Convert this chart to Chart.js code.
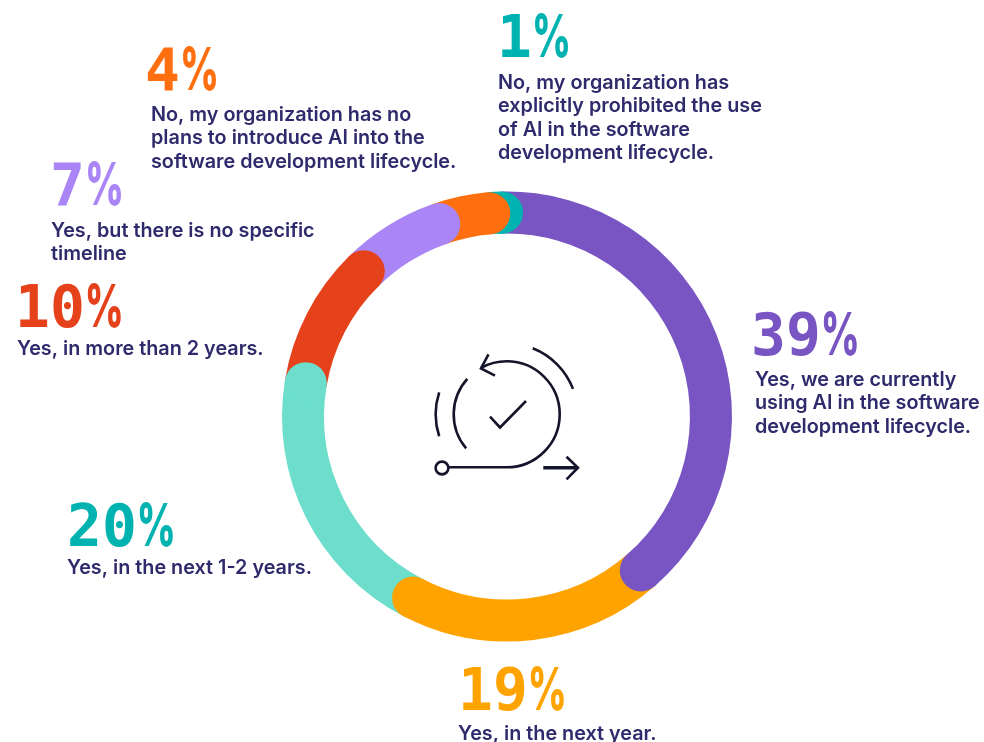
<!DOCTYPE html>
<html>
<head>
<meta charset="utf-8">
<script src="https://cdn.jsdelivr.net/npm/chart.js@4"></script>
<style>
  html, body { margin: 0; padding: 0; background: #fff; overflow: hidden; }
  #wrap { position: relative; width: 984px; height: 742px; }
</style>
</head>
<body>
<div id="wrap"><canvas id="ring" width="984" height="742"></canvas></div>
<script>
// Survey answers, clockwise from the top of the ring
const categories = [
  ["Yes, we are currently", "using AI in the software", "development lifecycle."],
  ["Yes, in the next year."],
  ["Yes, in the next 1-2 years."],
  ["Yes, in more than 2 years."],
  ["Yes, but there is no specific", "timeline"],
  ["No, my organization has no", "plans to introduce AI into the", "software development lifecycle."],
  ["No, my organization has", "explicitly prohibited the use", "of AI in the software", "development lifecycle."]
];
const shares = [39, 19, 20, 10, 7, 4, 1];
const colors = ["#7855C3", "#FFA300", "#6CDECB", "#E5421C", "#A985F5", "#FF6F0F", "#00B2B0"];
const percentColors = ["#7855C3", "#FFA300", "#00B2B0", "#E5421C", "#A985F5", "#FF6F0F", "#00B2B0"];

// Callout anchors: x, percent baseline, first text baseline
const calloutX = [751, 458, 67, 15, 50, 145, 497];
const calloutBodyX = [755, 458, 67, 17, 51, 151, 498];
const percentBaseline = [355, 710, 546, 327, 205, 90, 57];
const bodyBaseline = [386, 740, 574, 355, 237, 121, 89];

const lineGap = 23.4;
const digitFont = "bold 58px 'DejaVu Sans Mono'";
const signFont = "800 59px Inter";
const signWidth = 39;
const bodyFont = "600 19.8px Inter";
const bodyColor = "#2F2A6B";
const iconColor = "#14142B";

// Rounded leading end of each arc, laid over the following slice
const roundCaps = {
  id: "roundCaps",
  afterDatasetsDraw(chart) {
    const { ctx } = chart;
    const arcs = chart.getDatasetMeta(0).data;
    for (let i = arcs.length - 1; i >= 0; i--) {
      const a = arcs[i];
      const mid = (a.outerRadius + a.innerRadius) / 2;
      const r = (a.outerRadius - a.innerRadius) / 2;
      ctx.save();
      ctx.fillStyle = colors[i];
      ctx.beginPath();
      ctx.arc(a.x + mid * Math.cos(a.endAngle), a.y + mid * Math.sin(a.endAngle), r, 0, Math.PI * 2);
      ctx.fill();
      ctx.restore();
    }
  }
};

// Percent figures and wrapped answers around the ring
const callouts = {
  id: "callouts",
  afterDraw(chart) {
    const { ctx } = chart;
    ctx.save();
    ctx.textBaseline = "alphabetic";
    ctx.textAlign = "left";
    shares.forEach((v, i) => {
      const digits = String(v);
      ctx.font = digitFont;
      ctx.fillStyle = percentColors[i];
      ctx.fillText(digits, calloutX[i], percentBaseline[i]);
      const signX = calloutX[i] + ctx.measureText(digits).width;
      // the percent sign is condensed to sit in one digit cell
      ctx.font = signFont;
      const natural = ctx.measureText("%").width;
      ctx.save();
      ctx.translate(signX, percentBaseline[i]);
      ctx.scale(signWidth / natural, 1);
      ctx.fillText("%", 0, 0);
      ctx.restore();
      ctx.font = bodyFont;
      ctx.fillStyle = bodyColor;
      categories[i].forEach((line, k) => {
        ctx.fillText(line, calloutBodyX[i], bodyBaseline[i] + k * lineGap);
      });
    });
    ctx.restore();
  }
};

// Line icon in the hole: looping arrow, tick and motion arcs
const centerIcon = {
  id: "centerIcon",
  afterDraw(chart) {
    const { ctx } = chart;
    const arc = chart.getDatasetMeta(0).data[0];
    const cx = arc.x - 0.3, cy = arc.y - 2.2;
    const deg = d => d * Math.PI / 180;
    const stroke = (w, draw) => {
      ctx.lineWidth = w;
      ctx.beginPath();
      draw();
      ctx.stroke();
    };
    ctx.save();
    ctx.strokeStyle = iconColor;
    ctx.lineCap = "butt";
    ctx.lineJoin = "miter";
    // motion arcs
    stroke(2.6, () => ctx.arc(cx, cy, 71, deg(-68.5), deg(-21)));
    stroke(2.6, () => ctx.arc(cx, cy, 71, deg(162), deg(198)));
    stroke(2.6, () => ctx.arc(cx, cy, 53, deg(140), deg(222)));
    // main loop from the dot round to the arrow head
    stroke(2.6, () => {
      ctx.moveTo(448.5, cy + 53);
      ctx.lineTo(cx, cy + 53);
      ctx.arc(cx, cy, 53, deg(90), deg(241), true);
    });
    stroke(2.6, () => {
      ctx.moveTo(488.5, 354.3);
      ctx.lineTo(481, 368.5);
      ctx.lineTo(495, 375.7);
    });
    // tick
    stroke(2.6, () => {
      ctx.moveTo(490, 416.7);
      ctx.lineTo(500, 427.5);
      ctx.lineTo(526, 401);
    });
    // start dot
    stroke(2.6, () => ctx.arc(442, 468, 6.4, 0, Math.PI * 2));
    // outgoing arrow
    stroke(3.6, () => {
      ctx.moveTo(543.3, 467.7);
      ctx.lineTo(577, 467.7);
    });
    stroke(2.6, () => {
      ctx.moveTo(566.5, 456.7);
      ctx.lineTo(578, 467.7);
      ctx.lineTo(566.5, 479.3);
    });
    ctx.restore();
  }
};

new Chart(document.getElementById("ring"), {
  type: "doughnut",
  data: {
    labels: categories.map(c => c.join(" ")),
    datasets: [{
      data: shares,
      backgroundColor: colors,
      borderWidth: 0,
      hoverOffset: 0
    }]
  },
  options: {
    responsive: false,
    animation: false,
    cutout: "81.3%",
    rotation: -1.4,
    layout: { padding: { left: 282, right: 252, top: 191.5, bottom: 100.5 } },
    events: [],
    plugins: { legend: { display: false }, tooltip: { enabled: false } }
  },
  plugins: [roundCaps, centerIcon, callouts]
});
</script>
</body>
</html>
